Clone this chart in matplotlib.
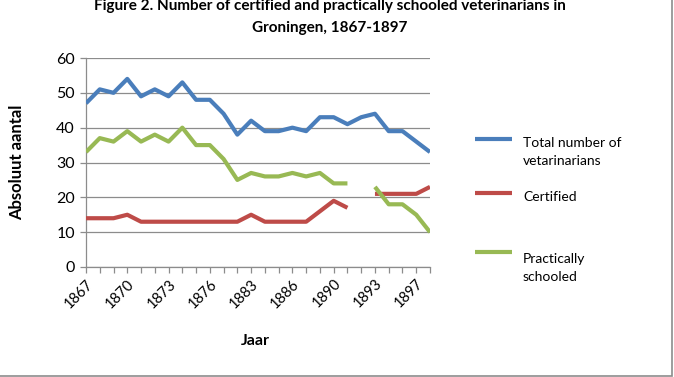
import matplotlib
matplotlib.use("Agg")
import matplotlib.pyplot as plt
import numpy as np
from matplotlib.lines import Line2D
from matplotlib.patches import Rectangle

plt.rcParams["font.family"] = ["Lato", "DejaVu Sans"]

# categories (only every third one is labelled in the original)
years = ["1867", "1868", "1869", "1870", "1871", "1872", "1873", "1874", "1875",
         "1876", "1880", "1882", "1883", "1884", "1885", "1886", "1887", "1888",
         "1890", "1891", "1892", "1893", "1894", "1895", "1897", "1898"]

total = [47, 51, 50, 54, 49, 51, 49, 53, 48, 48, 44, 38, 42, 39, 39, 40, 39, 43,
         43, 41, 43, 44, 39, 39, 36, 33]
certified = [14, 14, 14, 15, 13, 13, 13, 13, 13, 13, 13, 13, 15, 13, 13, 13, 13, 16,
             19, 17, np.nan, 21, 21, 21, 21, 23]
practical = [33, 37, 36, 39, 36, 38, 36, 40, 35, 35, 31, 25, 27, 26, 26, 27, 26, 27,
             24, 24, np.nan, 23, 18, 18, 15, 10]

series = [
    ("Total number of\nvetarinarians", total, "#4a7ebb"),
    ("Certified", certified, "#be4b48"),
    ("Practically\nschooled", practical, "#98b954"),
]

W, H = 674, 377
fig = plt.figure(figsize=(W / 100, H / 100), dpi=100)
ax = fig.add_axes([86 / W, 1 - 267 / H, (430 - 86) / W, (267 - 58) / H])

x = np.arange(len(years))
for label, vals, color in series:
    ax.plot(x, vals, color=color, linewidth=3, solid_joinstyle="round",
            solid_capstyle="butt", zorder=3)

ax.set_xlim(0, len(years) - 1)
ax.set_ylim(0, 60)
ax.set_yticks(range(0, 61, 10))
ax.yaxis.grid(True, color="#8c8c8c", linewidth=0.9)
ax.set_axisbelow(True)
ax.set_xticks(x)
ax.set_xticklabels([y if i % 3 == 0 else "" for i, y in enumerate(years)],
                   rotation=45, ha="right", rotation_mode="anchor", fontsize=10.5)
ax.tick_params(axis="both", direction="out", length=4, color="#8c8c8c", width=0.9)
ax.tick_params(axis="y", labelsize=11.5, pad=4)
ax.tick_params(axis="x", pad=3)
for s in ["top", "right"]:
    ax.spines[s].set_visible(False)
for s in ["left", "bottom"]:
    ax.spines[s].set_color("#8c8c8c")
    ax.spines[s].set_linewidth(0.9)

ax.set_xlabel("Jaar", fontsize=11.5, fontweight="bold")
ax.xaxis.set_label_coords((255 - 86) / (430 - 86), -(334 - 267) / (267 - 58))
ax.set_ylabel("Absoluut aantal", fontsize=12, fontweight="bold")
ax.yaxis.set_label_coords(-(86 - 25) / (430 - 86), 0.5)

# title (first line sits right at the top of the frame)
fig.text(330 / W, 1 - 6 / H, "Figure 2. Number of certified and practically schooled veterinarians in",
         ha="center", va="center", fontsize=11, fontweight="bold")
fig.text(330 / W, 1 - 28 / H, "Groningen, 1867-1897",
         ha="center", va="center", fontsize=11, fontweight="bold")

# legend drawn by hand to match the spacing
leg_y = [139, 193, 252]
txt_y = [152, 197, 268]
for (label, vals, color), ly, ty in zip(series, leg_y, txt_y):
    fig.add_artist(Line2D([475 / W, 512 / W], [1 - ly / H, 1 - ly / H],
                          color=color, linewidth=3, solid_capstyle="butt"))
    fig.text(523 / W, 1 - ty / H, label, ha="left", va="center", fontsize=10,
             linespacing=1.65)

# outer chart frame (right and bottom edges visible)
fig.add_artist(Rectangle((-0.01, 1.5 / H), 1 - 2.5 / W + 0.01, 1.1, transform=fig.transFigure,
                         fill=False, edgecolor="#8c8c8c", linewidth=1.2))

fig.savefig("out.png", dpi=100)
